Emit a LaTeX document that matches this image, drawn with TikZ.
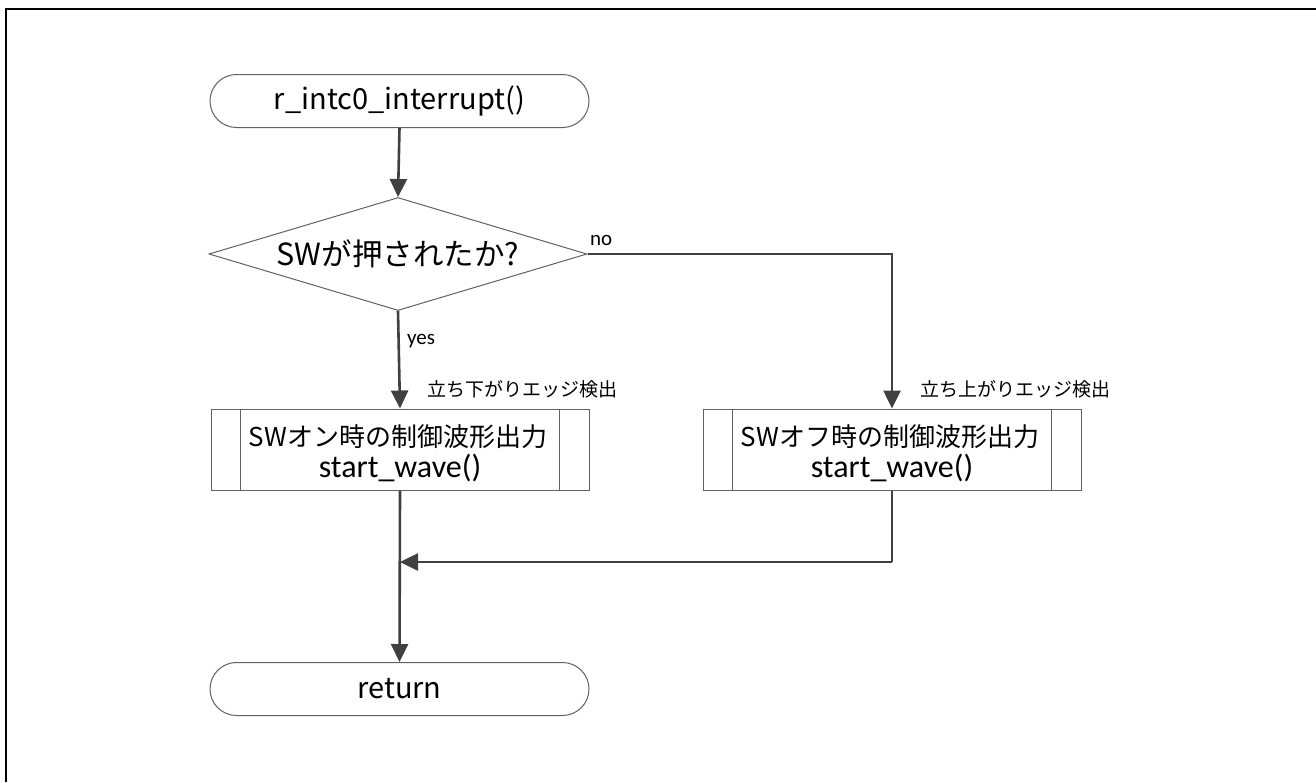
\documentclass[tikz,border=0pt]{standalone}
\usepackage{fontspec}
\setmainfont{Carlito}
\newfontfamily\jp{Noto Sans CJK JP}
\usetikzlibrary{shapes.geometric,arrows.meta,calc}
\begin{document}
\begin{tikzpicture}[x=1pt,y=-1pt,
  shapeline/.style={draw=black!62,line width=1pt},
  terminal/.style={shapeline,rectangle,rounded corners=26.5pt,minimum width=379pt,minimum height=53pt,inner sep=0pt,font=\jp\fontsize{29}{32}\selectfont},
  decision/.style={shapeline,diamond,aspect=3.35,minimum width=378pt,minimum height=113pt,inner sep=0pt,font=\jp\fontsize{30.5}{34}\selectfont},
  subproc/.style={shapeline,rectangle,minimum width=378pt,minimum height=81pt,inner sep=0pt,align=center},
  flow/.style={draw=black!75,line width=2.6pt},
  arrowflow/.style={flow,-{Triangle[width=17pt,length=18pt]}},
  edgelabel/.style={font=\jp\fontsize{19}{22}\selectfont,inner sep=0pt},
  smalllabel/.style={font=\fontsize{21}{24}\selectfont,inner sep=0pt},
  titleline/.style={font=\jp\fontsize{26}{30}\selectfont},
  callline/.style={font=\fontsize{32}{34}\selectfont}
]
\useasboundingbox (0,0) rectangle (1316,782);
% frame
\draw[line width=2.5pt,black] (6,782) -- (6,9) -- (1316,9);

% nodes
\node[terminal] (start) at (399.5,101) {r\_intc0\_interrupt()};
\node[decision] (dec) at (398,254) {SW\jp が押されたか?};
\node[subproc] (on) at (400,449.5) {};
\node[subproc] (off) at (892,449.5) {};
\node[titleline] (ontitle) at (398,437) {SW\jp オン時の制御波形出力};
\node[callline] (oncall) at (400,468) {start\_wave()};
\node[titleline] (offtitle) at (890,437) {SW\jp オフ時の制御波形出力};
\node[callline] (offcall) at (892,468) {start\_wave()};
\node[terminal] (ret) at (399.5,689) {return};

% side bars of the predefined-process boxes
\foreach \p in {on,off}{
  \draw[shapeline] ($(\p.north west)+(30,0)$) -- ($(\p.south west)+(30,0)$);
  \draw[shapeline] ($(\p.north east)+(-30,0)$) -- ($(\p.south east)+(-30,0)$);
}

\coordinate (noturn) at (892,254);
\coordinate (join) at (892,562);
\coordinate (merge) at (400,562);

% connectors
\draw[arrowflow] (start.south) -- (dec.north);
\draw[arrowflow] (dec.south) -- (on.north);
\draw[arrowflow] (dec.east) -- (noturn) -- (off.north);
\draw[arrowflow] (on.south) -- (ret.north);
\draw[flow] (off.south) -- (join);
\draw[arrowflow] (join) -- (merge);

% labels
\node[smalllabel,anchor=west] (yes) at (407,341) {yes};
\node[smalllabel,anchor=west] (no) at (590,240) {no};
\node[edgelabel,anchor=west] (fall) at (427,389) {立ち下がりエッジ検出};
\node[edgelabel,anchor=west] (rise) at (920,389) {立ち上がりエッジ検出};
\end{tikzpicture}
\end{document}
